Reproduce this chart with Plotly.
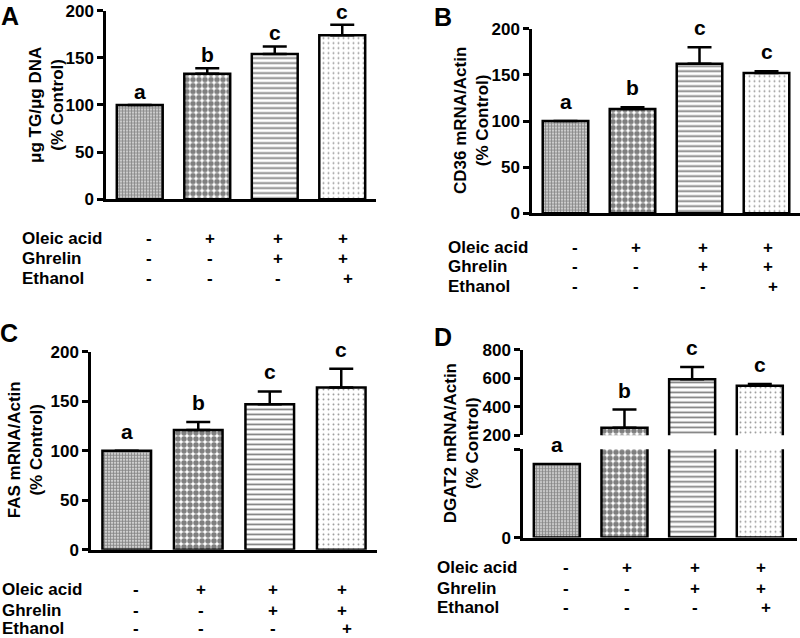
"""Four-panel bar chart: lipid content and gene expression by treatment."""
import plotly.graph_objects as go

FONT = "Liberation Sans, Arial, sans-serif"
W, H = 800, 648
# the snapshot shows the page slightly squeezed and shifted down
Y_OFF, Y_SCALE = 9.4, 0.967

groups = ["control", "oleic", "oleic+ghrelin", "oleic+ghrelin+ethanol"]
letters = ["a", "b", "c", "c"]
oleic_acid = ["-", "+", "+", "+"]
ghrelin = ["-", "-", "+", "+"]
ethanol = ["-", "-", "-", "+"]

tg_mean = [100, 133, 154, 174]
tg_sem = [0, 6, 8, 11]
cd36_mean = [100, 113, 162, 152]
cd36_sem = [0, 2, 18, 2]
fas_mean = [100, 121, 147, 164]
fas_sem = [0, 8, 13, 19]
dgat2_mean = [100, 253, 594, 548]
dgat2_sem = [0, 127, 86, 12]

PATTERN = dict(
    shape=[".", ".", "-", "."],
    size=[3, 6, 5, 5],
    solidity=[0.7, 0.65, 0.35, 0.12],
    fgcolor=["#111111", "#000000", "#000000", "#333333"],
    bgcolor="white",
)


def bold(size):
    return dict(family=FONT, size=size, color="black", weight="bold")


# positions below are screen pixels; convert to paper fractions
def px_x(p):
    return p / W


def px_y(p):
    return 1 - (p - Y_OFF) / Y_SCALE / H


def bars(xa, ya, means, sems, error=True):
    return go.Bar(
        x=list(range(len(groups))), y=means, xaxis=xa, yaxis=ya,
        width=0.68, marker=dict(color="white", line=dict(color="black", width=2.5),
                                pattern=PATTERN),
        error_y=dict(type="data", array=sems, arrayminus=[0] * len(sems),
                     symmetric=False, color="black", thickness=2.5, width=12,
                     visible=error),
        showlegend=False, hoverinfo="skip",
    )


fig = go.Figure()
annotations = []


def yaxis_style(domain, rng, tickvals, ticktext=None, anchor="x"):
    d = dict(domain=domain, range=rng, tickvals=tickvals, showline=True,
             linecolor="black", linewidth=2.5, ticks="outside", ticklen=6,
             tickwidth=2.5, tickcolor="black", showgrid=False, zeroline=False,
             tickfont=bold(17), anchor=anchor, fixedrange=True)
    if ticktext is not None:
        d["ticktext"] = ticktext
    return d


def xaxis_style(domain, rng, anchor):
    return dict(domain=domain, range=rng, showline=True, linecolor="black",
                linewidth=2.5, ticks="", showticklabels=False, showgrid=False,
                zeroline=False, anchor=anchor, fixedrange=True)


def table(xa, label_x, rows_y, shifts):
    for name, row, py in zip(["Oleic acid", "Ghrelin", "Ethanol"],
                             [oleic_acid, ghrelin, ethanol], rows_y):
        annotations.append(dict(text=name, xref="paper", yref="paper",
                                x=px_x(label_x), y=px_y(py), xanchor="left",
                                yanchor="middle", showarrow=False, font=bold(17)))
        for i, s in enumerate(row):
            extra = 5 if (name == "Ethanol" and i == 3) else 0
            annotations.append(dict(text=s, xref=xa, yref="paper",
                                    x=i, y=px_y(py), xshift=shifts[i] + extra,
                                    xanchor="center", yanchor="middle",
                                    showarrow=False, font=bold(17)))


def letters_for(xa, ya, means, sems, lift=6):
    for i, t in enumerate(letters):
        annotations.append(dict(text=t, xref=xa, yref=ya, x=i,
                                y=means[i] + sems[i], yanchor="bottom", yshift=lift,
                                showarrow=False, font=bold(21)))


def ytitle(line1, x, y):
    annotations.append(dict(text="%s<br>(%% Control)" % line1, xref="paper",
                            yref="paper", x=px_x(x), y=px_y(y), textangle=-90,
                            xanchor="center", yanchor="middle", showarrow=False,
                            font=bold(17)))


def panel_letter(t, x, y):
    annotations.append(dict(text=t, xref="paper", yref="paper",
                            x=px_x(x), y=px_y(y), xanchor="center", yanchor="middle",
                            showarrow=False, font=bold(25)))


shifts = [9, 3, 3, 1]
t200 = [0, 50, 100, 150, 200]

# A
fig.add_trace(bars("x", "y", tg_mean, tg_sem))
fig.update_layout(
    xaxis=xaxis_style([px_x(106), px_x(376)], [-0.5, 3.5], "y"),
    yaxis=yaxis_style([px_y(199), px_y(11)], [0, 200], t200, anchor="x"),
)
letters_for("x", "y", tg_mean, tg_sem, lift=0)
table("x", 20, [238, 258, 278], shifts)
ytitle("μg TG/μg DNA", 47, 105)
panel_letter("A", 10, 16)

# B
fig.add_trace(bars("x2", "y2", cd36_mean, cd36_sem))
fig.update_layout(
    xaxis2=xaxis_style([px_x(532), 1.0], [-0.5, 3.5], "y2"),
    yaxis2=yaxis_style([px_y(213), px_y(29)], [0, 200], t200, anchor="x2"),
)
letters_for("x2", "y2", cd36_mean, cd36_sem)
table("x2", 446, [247, 266, 286], shifts)
ytitle("CD36 mRNA/Actin", 471, 121)
panel_letter("B", 443, 17)

# C
fig.add_trace(bars("x3", "y3", fas_mean, fas_sem))
fig.update_layout(
    xaxis3=xaxis_style([px_x(91), px_x(377)], [-0.5, 3.5], "y3"),
    yaxis3=yaxis_style([px_y(548), px_y(351)], [0, 200], t200, anchor="x3"),
)
letters_for("x3", "y3", fas_mean, fas_sem)
table("x3", 0, [588, 609, 627], shifts)
ytitle("FAS mRNA/Actin", 25, 449)
panel_letter("C", 9, 332)

# D: broken y axis (lower 0-120, upper 200-800)
fig.add_trace(bars("x4", "y4", dgat2_mean, dgat2_sem, error=False))
fig.add_trace(bars("x4", "y5", dgat2_mean, dgat2_sem))
fig.update_layout(
    xaxis4=xaxis_style([px_x(523), px_x(797)], [-0.5, 3.55], "y4"),
    yaxis4=yaxis_style([px_y(536), px_y(448)], [0, 120], [0, 120], ["0", ""], anchor="x4"),
    yaxis5=yaxis_style([px_y(434), px_y(349)], [200, 800], [200, 400, 600, 800], anchor="x4"),
)
for i, t in enumerate(letters):
    top = dgat2_mean[i] + dgat2_sem[i]
    ya = "y4" if top <= 120 else "y5"
    annotations.append(dict(text=t, xref="x4", yref=ya, x=i, y=top,
                            yanchor="bottom", yshift=6, showarrow=False, font=bold(21)))
table("x4", 435, [566, 587, 606], shifts)
ytitle("DGAT2 mRNA/Actin", 461, 442)
panel_letter("D", 443, 336)

fig.update_layout(
    width=W, height=H, margin=dict(l=0, r=0, t=0, b=0),
    paper_bgcolor="white", plot_bgcolor="white",
    font=dict(family=FONT, color="black"),
    annotations=annotations,
)

fig.write_html("out.html", config={"displayModeBar": False},
               post_script="document.body.style.margin='0';")
